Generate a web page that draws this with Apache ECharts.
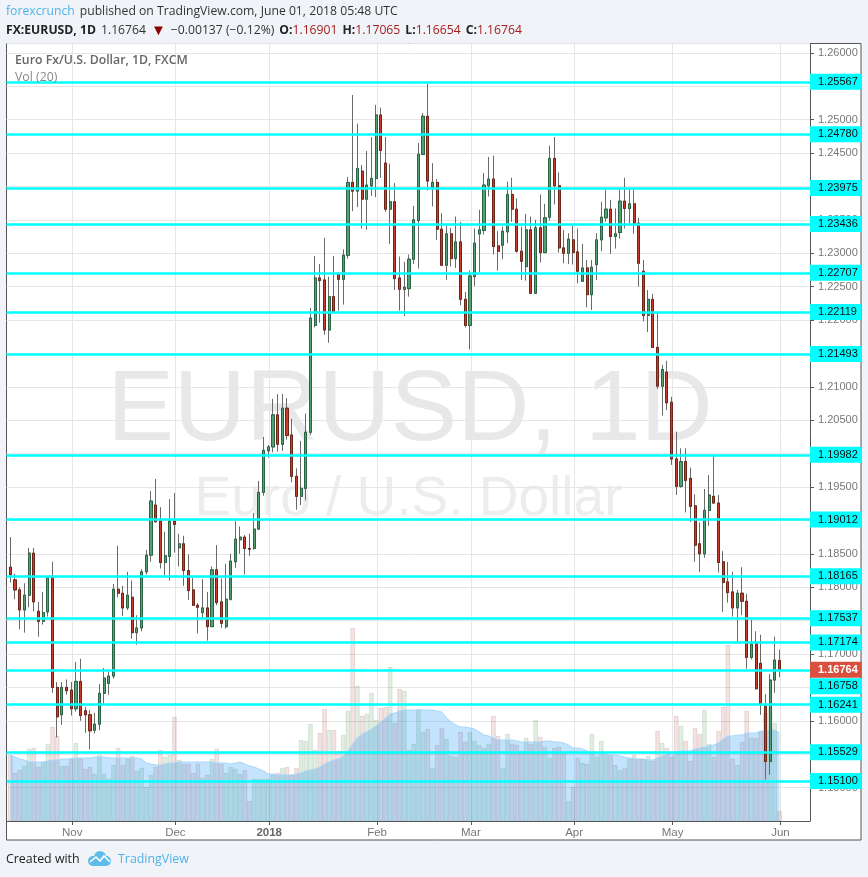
<!DOCTYPE html>
<html><head><meta charset="utf-8">
<style>html,body{margin:0;padding:0;background:#f0f3f8}#c{width:868px;height:877px}</style>
<script src="https://cdn.jsdelivr.net/npm/echarts@6/dist/echarts.min.js"></script>
</head><body><div id="c"></div>
<script>
const opens=[1.1830,1.1811,1.1796,1.1766,1.1788,1.1851,1.1764,1.1749,1.1763,1.1814,1.1650,1.1609,1.1650,1.1646,1.1618,1.1659,1.1615,1.1609,1.1586,1.1595,1.1641,1.1656,1.1667,1.1797,1.1791,1.1769,1.1785,1.1732,1.1739,1.1823,
1.1848,1.1923,1.1899,1.1837,1.1846,1.1899,1.1859,1.1865,1.1825,1.1796,1.1773,1.1762,1.1769,1.1741,1.1826,1.1778,1.1741,1.1782,1.1838,1.1871,1.1875,1.1858,1.1858,1.1887,1.1942,1.2004,1.2010,1.2058,1.2014,1.2068,
1.2028,1.1966,1.1936,1.1948,1.2032,1.2192,1.2263,1.2260,1.2185,1.2235,1.2269,1.2261,1.2297,1.2406,1.2393,1.2423,1.2381,1.2401,1.2412,1.2507,1.2435,1.2366,1.2377,1.2263,1.2246,1.2247,1.2291,1.2349,1.2448,1.2505,
1.2399,1.2406,1.2336,1.2282,1.2329,1.2292,1.2317,1.2231,1.2192,1.2265,1.2329,1.2334,1.2401,1.2411,1.2311,1.2312,1.2332,1.2388,1.2366,1.2303,1.2280,1.2335,1.2240,1.2338,1.2301,1.2354,1.2442,1.2401,1.2308,1.2300,
1.2320,1.2302,1.2258,1.2278,1.2238,1.2283,1.2320,1.2353,1.2366,1.2325,1.2331,1.2378,1.2367,1.2374,1.2345,1.2273,1.2207,1.2231,1.2159,1.2101,1.2122,1.2077,1.1992,1.1951,1.1988,1.1963,1.1922,1.1865,1.1850,1.1915,
1.1936,1.1926,1.1838,1.1808,1.1793,1.1769,1.1791,1.1779,1.1695,1.1715,1.1686,1.1622,1.1539,1.1661,1.16901];
const highs=[1.1875,1.1820,1.1800,1.1806,1.1859,1.1859,1.1778,1.1793,1.1814,1.1838,1.1658,1.1658,1.1662,1.1658,1.1688,1.1693,1.1621,1.1616,1.1612,1.1655,1.1679,1.1677,1.1805,1.1862,1.1802,1.1823,1.1810,1.1758,1.1827,1.1856,
1.1944,1.1962,1.1920,1.1883,1.1932,1.1941,1.1880,1.1877,1.1849,1.1814,1.1776,1.1812,1.1793,1.1831,1.1863,1.1813,1.1835,1.1850,1.1899,1.1891,1.1878,1.1880,1.1911,1.1959,1.2025,1.2013,1.2082,1.2089,1.2089,1.2083,
1.2052,1.1978,1.2019,1.2060,1.2218,1.2296,1.2284,1.2323,1.2265,1.2296,1.2272,1.2306,1.2414,1.2537,1.2494,1.2432,1.2453,1.2474,1.2522,1.2518,1.2474,1.2434,1.2405,1.2295,1.2287,1.2298,1.2371,1.2465,1.2510,1.2554,
1.2435,1.2411,1.2360,1.2341,1.2338,1.2355,1.2347,1.2242,1.2274,1.2337,1.2365,1.2420,1.2444,1.2446,1.2333,1.2340,1.2407,1.2413,1.2382,1.2340,1.2359,1.2355,1.2350,1.2388,1.2374,1.2461,1.2474,1.2421,1.2335,1.2330,
1.2341,1.2337,1.2314,1.2290,1.2290,1.2330,1.2377,1.2395,1.2380,1.2367,1.2395,1.2413,1.2396,1.2395,1.2353,1.2290,1.2245,1.2239,1.2210,1.2133,1.2139,1.2085,1.2033,1.2008,1.2008,1.1979,1.1939,1.1897,1.1947,1.1968,
1.1996,1.1938,1.1854,1.1838,1.1823,1.1796,1.1830,1.1790,1.1751,1.1734,1.1729,1.1640,1.1670,1.1726,1.17065];
const lows=[1.1807,1.1782,1.1737,1.1732,1.1770,1.1764,1.1726,1.1744,1.1756,1.1642,1.1575,1.1594,1.1639,1.1608,1.1614,1.1600,1.1582,1.1557,1.1581,1.1586,1.1626,1.1639,1.1663,1.1785,1.1757,1.1766,1.1723,1.1714,1.1734,1.1819,
1.1838,1.1897,1.1828,1.1818,1.1810,1.1852,1.1831,1.1802,1.1781,1.1772,1.1731,1.1753,1.1720,1.1741,1.1773,1.1739,1.1738,1.1780,1.1829,1.1850,1.1819,1.1847,1.1856,1.1886,1.1937,1.1994,1.2002,1.2003,1.2004,1.2021,
1.1957,1.1916,1.1923,1.1930,1.2028,1.2189,1.2196,1.2178,1.2166,1.2211,1.2214,1.2223,1.2292,1.2363,1.2369,1.2337,1.2335,1.2386,1.2384,1.2413,1.2362,1.2314,1.2245,1.2214,1.2206,1.2235,1.2284,1.2277,1.2447,1.2394,
1.2370,1.2320,1.2281,1.2260,1.2280,1.2278,1.2222,1.2189,1.2156,1.2251,1.2272,1.2328,1.2385,1.2298,1.2274,1.2291,1.2315,1.2347,1.2301,1.2260,1.2259,1.2240,1.2240,1.2286,1.2300,1.2349,1.2373,1.2301,1.2285,1.2284,
1.2283,1.2255,1.2257,1.2219,1.2215,1.2260,1.2303,1.2347,1.2299,1.2307,1.2322,1.2337,1.2345,1.2329,1.2250,1.2198,1.2182,1.2158,1.2097,1.2057,1.2065,1.1983,1.1938,1.1949,1.1912,1.1898,1.1838,1.1823,1.1844,1.1892,
1.1925,1.1822,1.1763,1.1777,1.1756,1.1719,1.1758,1.1678,1.1692,1.1647,1.1609,1.1512,1.1519,1.1642,1.16654];
const closes=[1.1819,1.1796,1.1766,1.1788,1.1851,1.1778,1.1749,1.1762,1.1814,1.1650,1.1606,1.1650,1.1645,1.1618,1.1659,1.1608,1.1609,1.1585,1.1595,1.1641,1.1664,1.1667,1.1797,1.1791,1.1769,1.1788,1.1732,1.1739,1.1823,1.1848,
1.1929,1.1898,1.1837,1.1847,1.1899,1.1894,1.1865,1.1825,1.1795,1.1773,1.1770,1.1769,1.1741,1.1826,1.1777,1.1746,1.1782,1.1839,1.1872,1.1875,1.1858,1.1857,1.1887,1.1942,1.2005,1.2010,1.2058,1.2014,1.2068,1.2027,
1.1966,1.1936,1.1948,1.2032,1.2203,1.2263,1.2259,1.2185,1.2235,1.2212,1.2261,1.2297,1.2406,1.2393,1.2427,1.2381,1.2402,1.2412,1.2507,1.2454,1.2366,1.2377,1.2262,1.2246,1.2249,1.2291,1.2350,1.2448,1.2505,1.2408,
1.2406,1.2336,1.2282,1.2329,1.2292,1.2317,1.2231,1.2192,1.2266,1.2315,1.2335,1.2402,1.2411,1.2310,1.2303,1.2333,1.2388,1.2366,1.2303,1.2288,1.2335,1.2240,1.2338,1.2301,1.2353,1.2442,1.2401,1.2308,1.2300,1.2321,
1.2301,1.2273,1.2278,1.2238,1.2279,1.2320,1.2354,1.2366,1.2325,1.2329,1.2378,1.2367,1.2374,1.2345,1.2285,1.2207,1.2231,1.2159,1.2101,1.2126,1.2076,1.1992,1.1951,1.1988,1.1960,1.1921,1.1863,1.1850,1.1915,1.1938,
1.1926,1.1837,1.1807,1.1792,1.1769,1.1791,1.1779,1.1695,1.1715,1.1648,1.1624,1.1539,1.1661,1.1691,1.16764];
const volumes=[66,48,51,55,72,73,54,59,77,94,85,55,55,63,78,62,52,54,47,66,47,42,56,73,56,62,65,50,53,34,46,54,71,64,66,104,61,57,57,48,57,43,46,62,72,57,48,54,52,47,51,20,42,42,42,42,46,48,53,54,46,53,81,80,97,71,88,112,91,91,70,86,110,193,135,105,107,128,101,113,114,154,98,132,130,71,77,112,89,92,53,76,93,82,65,64,89,79,89,80,76,73,77,105,85,53,87,77,76,70,83,77,101,84,74,63,73,74,67,20,34,63,58,57,87,64,80,67,66,56,51,53,62,66,62,62,65,60,90,78,73,64,105,95,80,60,93,87,111,77,64,90,114,176,62,56,79,110,83,83,90,108,114,98,10];
const volumeMA=[66,64,62,61,59,59,59,59,60,61,61,62,62,62,63,63,63,63,64,64,64,63,63,63,63,63,63,63,62,58,57,56,56,57,58,58,59,59,59,59,59,59,59,59,58,58,58,57,58,59,57,55,54,52,50,47,47,46,46,46,46,47,48,50,51,52,54,57,59,61,62,65,70,77,83,87,89,92,95,99,103,107,108,110,111,111,111,111,111,111,111,110,109,103,99,96,94,94,93,92,89,86,85,83,81,81,81,81,80,79,79,79,79,79,80,80,79,79,78,76,73,73,72,70,68,67,67,67,66,66,65,64,63,62,62,62,61,61,63,65,67,69,69,70,70,70,72,73,74,75,76,78,82,85,85,86,86,88,88,88,90,90,91,91,88];
const levels=[1.25567,1.24780,1.23975,1.23436,1.22707,1.22119,1.21493,1.19982,1.19012,1.18165,1.17537,1.17174,1.16758,1.16241,1.15529,1.15100];
const lastPrice=1.16764;
const monthTicks=[13.2,35.2,55.2,78.2,98.2,120.2,141.2,164.2];
const monthLabels=['Nov','Dec','2018','Feb','Mar','Apr','May','Jun'];

const idx=opens.map((_,i)=>i);
const candle=idx.map(i=>[i,opens[i],closes[i],lows[i],highs[i]]);
const body=idx.map(i=>{const a=Math.min(opens[i],closes[i]),b=Math.max(opens[i],closes[i]);return [i,opens[i],closes[i],a,b];});
const volBars=idx.map(i=>{const up=closes[i]>opens[i];return {value:[i,volumes[i]],itemStyle:{
  color:up?'rgba(60,140,60,0.15)':'rgba(172,71,71,0.15)',
  borderColor:up?'rgba(60,130,70,0.22)':'rgba(150,60,60,0.22)',borderWidth:0.7}};});

const chart=echarts.init(document.getElementById('c'),null,{renderer:'canvas',width:868,height:877});
const cyan='#00ffff';
const hf='Open Sans';
chart.setOption({
 animation:false,backgroundColor:'#f0f3f8',
 title:[
  {left:6,top:3,padding:0,text:'{a|forexcrunch} {b|published on TradingView.com, June 01, 2018 05:48 UTC}',
   textStyle:{fontWeight:'normal',rich:{a:{fontFamily:hf,fontSize:12.2,fontWeight:'normal',color:'#4fb3e8'},b:{fontFamily:hf,fontSize:12.2,fontWeight:'normal',color:'#333'}}}},
  {left:6,top:22,padding:0,text:'{k|FX:EURUSD, 1D} {n|1.16764} {d|▼} {n|−0.00137 (−0.12%)} {k|O:}{r|1.16901} {k|H:}{r|1.17065} {k|L:}{r|1.16654} {k|C:}{r|1.16764}',
   textStyle:{fontWeight:'normal',rich:{k:{fontFamily:hf,fontSize:12.2,fontWeight:'bold',color:'#222'},n:{fontFamily:hf,fontSize:12.2,fontWeight:'normal',color:'#333'},d:{fontFamily:hf,fontSize:15,fontWeight:'normal',color:'#8b0000'},r:{fontFamily:hf,fontSize:12.2,fontWeight:'normal',color:'#a61c1c'}}}}
 ],
 graphic:[
  {type:'rect',z:-20,silent:true,shape:{x:6.5,y:43.5,width:854.5,height:796.5},style:{fill:'#fff',stroke:'#555',lineWidth:1}},
  {type:'text',z:-10,silent:true,style:{text:'EURUSD, 1D',x:410,y:412,align:'center',verticalAlign:'middle',fontFamily:'Liberation Sans',fontSize:100,fill:'#e8e8e8'}},
  {type:'text',z:-10,silent:true,style:{text:'Euro / U.S. Dollar',x:408.5,y:500,align:'center',verticalAlign:'middle',fontFamily:'Liberation Sans',fontSize:55,fill:'#ededed'}},
  {type:'text',z:20,silent:true,style:{text:'Euro Fx/U.S. Dollar, 1D, FXCM',x:15,y:60,verticalAlign:'middle',fontFamily:hf,fontWeight:600,fontSize:12.3,fill:'#666'}},
  {type:'text',z:20,silent:true,style:{text:'Vol (20)',x:15,y:77,verticalAlign:'middle',fontFamily:hf,fontSize:12.3,fill:'#888'}},
  {type:'text',z:20,silent:true,style:{text:'Created with',x:6,y:859,verticalAlign:'middle',fontFamily:hf,fontSize:12.4,fill:'#222'}},
  {type:'text',z:20,silent:true,style:{text:'TradingView',x:118,y:859,verticalAlign:'middle',fontFamily:hf,fontSize:12.4,fill:'#4fb3e8'}},
  {type:'circle',z:20,silent:true,shape:{cx:93,cy:861,r:5},style:{fill:'#5ebce9'}},
  {type:'circle',z:20,silent:true,shape:{cx:100,cy:857,r:6},style:{fill:'#5ebce9'}},
  {type:'circle',z:20,silent:true,shape:{cx:106,cy:861,r:5},style:{fill:'#5ebce9'}},
  {type:'polygon',z:20,silent:true,shape:{points:[[92,861],[107,861],[107,866],[92,866]]},style:{fill:'#5ebce9'}},
  {type:'polyline',z:21,silent:true,shape:{points:[[90,862],[96,857],[100,861],[104,856],[110,862]]},style:{fill:'none',stroke:'#fff',lineWidth:1.6}}
 ],
 grid:{left:6.5,right:58,top:43.5,bottom:56,containLabel:false},
 xAxis:{type:'value',min:-0.81,max:170.5,
  axisLine:{show:true,onZero:false,lineStyle:{color:'#555'}},
  axisTick:{show:true,length:4,customValues:monthTicks,lineStyle:{color:'#555'}},
  splitLine:{show:true,lineStyle:{color:'#e6e6e6',width:1}},
  axisLabel:{customValues:monthTicks,margin:6,fontFamily:'Liberation Sans',fontSize:11.5,color:'#777',
   formatter:v=>{const s=monthLabels[monthTicks.indexOf(v)]||'';return s==='2018'?'{b|2018}':s;},
   rich:{b:{fontWeight:'bold',fontFamily:'Liberation Sans',fontSize:11.5,color:'#666'}}}},
 yAxis:[
  {type:'value',position:'right',min:1.145,max:1.2614,interval:0.005,
   axisLine:{show:true,onZero:false,lineStyle:{color:'#555'}},
   axisTick:{show:true,length:4,lineStyle:{color:'#555'}},
   splitLine:{show:true,lineStyle:{color:'#e6e6e6',width:1}},
   axisLabel:{margin:8,showMinLabel:false,showMaxLabel:false,fontFamily:'Liberation Sans',fontSize:11,color:'#777',formatter:v=>v.toFixed(5)}},
  {type:'value',min:0,max:777.5,show:false}
 ],
 series:[
  {name:'Vol',type:'bar',yAxisIndex:1,barWidth:4.4,data:volBars,z:1,silent:true},
  {name:'Vol MA 20',type:'line',yAxisIndex:1,data:idx.map(i=>[i,volumeMA[i]]),symbol:'none',z:2,silent:true,
   lineStyle:{color:'#a7d6fa',width:1},areaStyle:{color:'rgba(33,150,243,0.38)'}},
  {name:'EURUSD',type:'candlestick',data:candle,z:3,silent:true,barWidth:2.6,
   itemStyle:{color:'#666',color0:'#666',borderColor:'#6a6a6a',borderColor0:'#6a6a6a',borderWidth:1}},
  {name:'EURUSD body',type:'candlestick',data:body,z:4,silent:true,barWidth:2.6,
   itemStyle:{color:'#53a075',color0:'#c93c2c',borderColor:'#2a6444',borderColor0:'#6e2518',borderWidth:1}},
  {name:'Levels',type:'line',data:[],z:10,silent:true,
   markLine:{silent:true,symbol:'none',animation:false,precision:5,
    lineStyle:{color:cyan,width:2.5,type:'solid'},
    label:{show:true,position:'end',distance:0,formatter:p=>p.value.toFixed(5),fontFamily:'Liberation Sans',fontSize:11,color:'#111',backgroundColor:cyan,padding:[3,4,2,8]},
    data:levels.map(v=>v===1.16758?{yAxis:v,label:{offset:[0,16]}}:{yAxis:v})}},
  {name:'Last',type:'line',data:[],z:11,silent:true,
   markLine:{silent:true,symbol:'none',animation:false,precision:5,lineStyle:{width:1,color:'rgba(0,0,0,0)',type:'solid'},
    label:{show:true,position:'end',distance:0,formatter:p=>p.value.toFixed(5),fontFamily:'Liberation Sans',fontSize:11,fontWeight:'bold',color:'#fff',backgroundColor:'#d9503f',padding:[3,4,2,8]},
    data:[{yAxis:lastPrice}]}}
 ]
});
</script></body></html>
